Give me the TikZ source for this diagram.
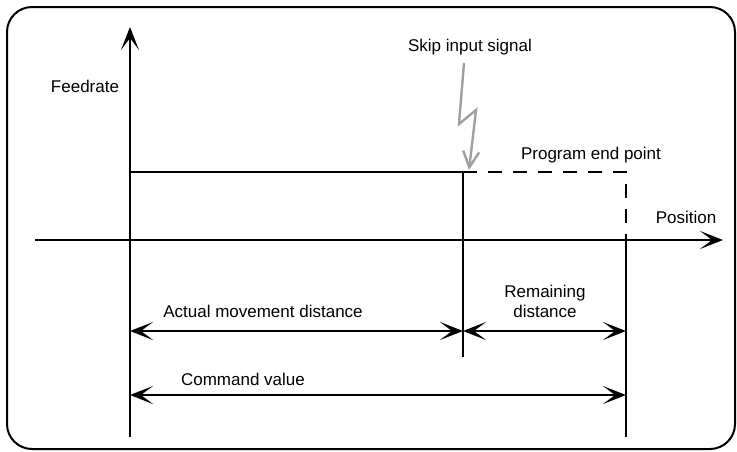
\documentclass[tikz,border=0pt]{standalone}
\usepackage{fontspec}
\setmainfont{Liberation Sans}
\usetikzlibrary{arrows.meta}
\tikzset{
  lbl/.style={anchor=center,inner sep=1pt,font=\fontsize{17}{20}\selectfont},
  dim/.style={{Stealth[length=23pt,width=18pt,inset=12pt]}-{Stealth[length=23pt,width=18pt,inset=12pt]},line width=1.6pt},
  axis/.style={-{Stealth[length=23pt,width=18pt,inset=12pt]},line width=1.6pt}
}
\begin{document}
\begin{tikzpicture}[x=1pt,y=-1pt,line width=1.6pt]
\path[use as bounding box] (0,0) rectangle (737,451);
\draw[line width=2pt,rounded corners=25pt] (7,7) rectangle (735,449);
% axes
\coordinate (o) at (130,240);
\coordinate (ytop) at (130,27);
\coordinate (ybot) at (130,437);
\coordinate (xl) at (35,240);
\coordinate (xr) at (723,240);
\draw[axis] (ybot) -- (ytop);
\draw[axis] (xl) -- (xr);
\node[lbl] (feed) at (85,86) {Feedrate};
\node[lbl] (pos) at (686,217) {Position};
% feedrate profile
\coordinate (f0) at (130,172);
\coordinate (skip) at (463,172);
\coordinate (skipb) at (463,357);
\coordinate (end) at (626,172);
\coordinate (endx) at (626,240);
\coordinate (endb) at (626,437);
\draw (f0) -- (skip) -- (skipb);
\draw[dash pattern=on 14pt off 11pt,line width=2.4pt] (skip) -- (end) -- (endx);
\draw (endx) -- (endb);
% skip signal
\node[lbl] (sig) at (470,47) {Skip input signal};
\draw[gray!75,line width=2.4pt,-{Straight Barb[length=16pt,width=16pt,line width=2.4pt]}]
  (464,63) -- (459,124) -- (476,110) -- (469,170);
\node[lbl] (pend) at (591,155) {Program end point};
% dimensions
\coordinate (a1) at (130,331);
\coordinate (a2) at (463,331);
\coordinate (a3) at (626,331);
\coordinate (c1) at (130,395);
\coordinate (c2) at (626,395);
\draw[dim] (a1) -- (a2);
\draw[dim] (a2) -- (a3);
\draw[dim] (c1) -- (c2);
\node[lbl] (act) at (263,311) {Actual movement distance};
\node[lbl,align=center] (rem) at (545,301) {Remaining\\distance};
\node[lbl] (cmd) at (243,379) {Command value};
\end{tikzpicture}
\end{document}
